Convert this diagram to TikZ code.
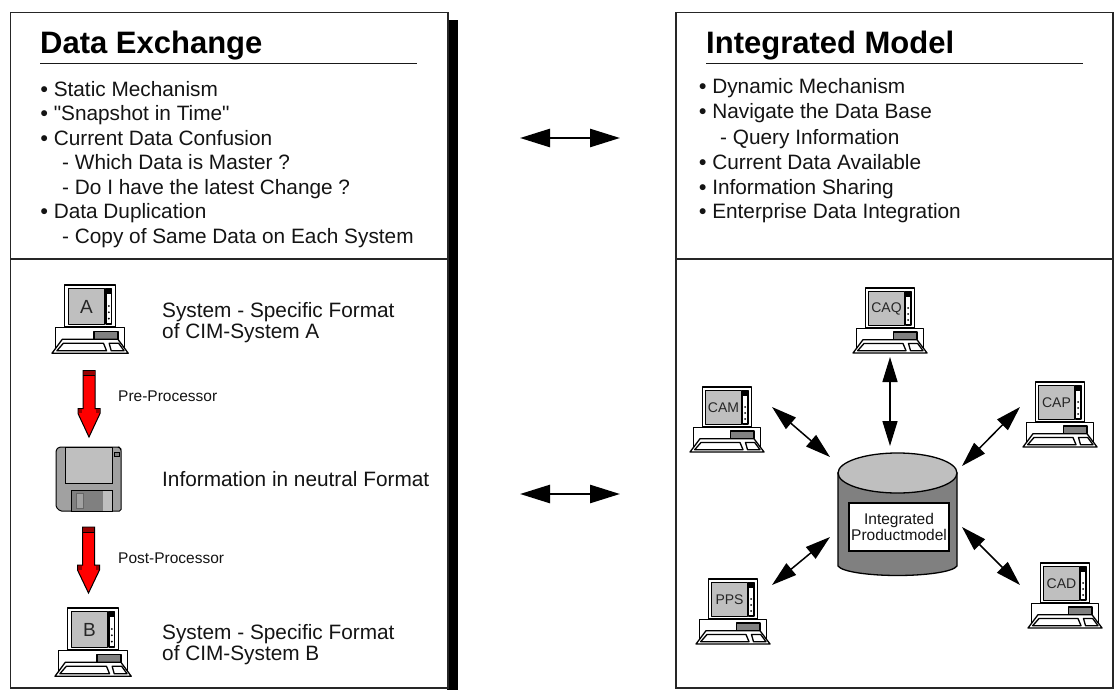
\documentclass[tikz,border=0pt]{standalone}
\usepackage{fontspec}
\setmainfont[Ligatures=TeXOff]{Liberation Sans}
\usetikzlibrary{arrows.meta,calc}
\definecolor{gA}{gray}{0.75}
\definecolor{gB}{gray}{0.5}
\definecolor{gC}{gray}{0.63}
\definecolor{txt}{gray}{0.08}
\newcommand{\fs}[1]{\fontsize{#1}{#1}\selectfont}
\newcommand{\bul}{{\bfseries •}}
\tikzset{
  panel/.style={draw=black!85,line width=1.4pt,fill=white},
  titletext/.style={anchor=base west,inner sep=0pt,font=\fs{31}\bfseries,text=black},
  bodytext/.style={anchor=base west,inner sep=0pt,font=\fs{20.8},text=txt},
  smalltext/.style={anchor=base west,inner sep=0pt,font=\fs{15.5},text=txt},
  bigarrow/.style={line width=2.6pt,black,{Triangle[length=30pt,width=18pt]}-{Triangle[length=30pt,width=18pt]}},
  linkarrow/.style={line width=1.5pt,black,{Triangle[length=25pt,width=15pt]}-{Triangle[length=25pt,width=15pt]}},
  cline/.style={draw=black,line width=1.3pt,line join=round},
  blockred/.style={draw=black,line width=1pt,fill=red,line join=miter},
}
\newcommand{\computer}[7]{%
\begin{scope}[shift={(#2,#3)},xscale=#4,yscale=#5]
  \draw[cline,fill=white] (12.3,0) rectangle (61.7,40);
  \draw[cline,fill=gA] (15.7,3.3) rectangle (51.3,37.5);
  \draw[cline,fill=white] (52.5,3.3) rectangle (58,37);
  \fill[black] (53.2,4) rectangle (57.3,8.5);
  \foreach \yy in {20,26,32} \fill[black] (55.2,\yy) circle (1pt);
  \draw[cline,fill=white] (3.3,40.7) rectangle (70.7,60);
  \draw[cline,fill=gB] (40.7,44) rectangle (64,51.7);
  \draw[cline,fill=white] (0,65) -- (10,51.7) -- (64,51.7) -- (74,65) -- cycle;
  \draw[cline,fill=white] (11,55.5) -- (50,55.5) -- (53,62.7) -- (4.7,62.7) -- cycle;
  \draw[cline,fill=white] (55.5,55.5) -- (64.7,55.5) -- (70,62.7) -- (57.5,62.7) -- cycle;
  \node[inner sep=0pt,font=\fs{#7},text=black!85] (#1) at (33.5,20.5) {#6};
\end{scope}}
\newcommand{\redarrow}[2]{%
  \draw[blockred] ($(#1)+(-6,0)$) -- ($(#1)+(6,0)$) -- ($(#1)+(6,38)$) -- ($(#1)+(11,38)$) -- ($(#1)+(11,43)$) -- (#2) -- ($(#1)+(-11,43)$) -- ($(#1)+(-11,38)$) -- ($(#1)+(-6,38)$) -- cycle;
  \fill[red!60!black] ($(#1)+(-5.5,0.5)$) rectangle ($(#1)+(5.5,4.5)$);
  \draw[black,line width=.8pt] ($(#1)+(-6,5)$) -- ($(#1)+(6,5)$);
  \fill[red!60!black] ($(#1)+(-10.5,38.5)$) rectangle ($(#1)+(-7,42.5)$);
  \fill[red!60!black] ($(#1)+(7,38.5)$) rectangle ($(#1)+(10.5,42.5)$);
}
\begin{document}
\begin{tikzpicture}[x=1pt,y=-1pt]
\useasboundingbox (0,0) rectangle (1114,690);
% left panel
\fill[black] (447,20) rectangle (458,690);
\draw[panel] (10.5,12.5) rectangle (448,688);
\draw[panel,fill=none] (10.5,259) -- (448,259);
\node[titletext] (t1) at (40,54) {Data Exchange};
\draw[line width=1.2pt,black!90] (40,63.5) -- (417,63.5);
\node[bodytext] (l1) at (40.5,97) {\bul{} Static Mechanism};
\node[bodytext] (l2) at (40.5,121) {\bul{} "Snapshot in Time"};
\node[bodytext] (l3) at (40.5,146) {\bul{} Current Data Confusion};
\node[bodytext] (l4) at (62,170) {- Which Data is Master ?};
\node[bodytext] (l5) at (62,194) {- Do I have the latest Change ?};
\node[bodytext] (l6) at (40.5,218.5) {\bul{} Data Duplication};
\node[bodytext] (l7) at (62,243) {- Copy of Same Data on Each System};
% right panel
\draw[panel] (676,12.5) rectangle (1113,688);
\draw[panel,fill=none] (676,259) -- (1113,259);
\node[titletext] (t2) at (706,54) {Integrated Model};
\draw[line width=1.2pt,black!90] (706,63.5) -- (1083,63.5);
\node[bodytext] (r1) at (699,94) {\bul{} Dynamic Mechanism};
\node[bodytext] (r2) at (699,119) {\bul{} Navigate the Data Base};
\node[bodytext] (r3) at (720,145) {- Query Information};
\node[bodytext] (r4) at (699,170) {\bul{} Current Data Available};
\node[bodytext] (r5) at (699,194) {\bul{} Information Sharing};
\node[bodytext] (r6) at (699,218.5) {\bul{} Enterprise Data Integration};
% middle arrows
\coordinate (m1a) at (520,138); \coordinate (m1b) at (620,138);
\coordinate (m2a) at (520,494); \coordinate (m2b) at (620,494);
\draw[bigarrow] (m1a) -- (m1b);
\draw[bigarrow] (m2a) -- (m2b);
% left computers
\computer{compA}{52}{285}{1.03}{1.05}{A}{19}
\computer{compB}{55}{608}{1.03}{1.05}{B}{19}
\node[bodytext] (sa1) at (162,317) {System - Specific Format};
\node[bodytext] (sa2) at (162,338) {of CIM-System A};
\node[bodytext] (sn) at (162,486) {Information in neutral Format};
\node[bodytext] (sb1) at (162,639) {System - Specific Format};
\node[bodytext] (sb2) at (162,660) {of CIM-System B};
\node[smalltext] (pre) at (118,401) {Pre-Processor};
\node[smalltext] (post) at (118,563) {Post-Processor};
% floppy
\draw[draw=black,line width=1pt,fill=gC,rounded corners=1.5pt] (59,447) -- (119,447) -- (121,449) -- (121,511) -- (60,511) -- (56,507) -- (56,450) -- cycle;
\draw[draw=black,line width=.9pt,fill=gA] (65,447) rectangle (112,483);
\draw[draw=black,line width=.8pt,fill=gB] (114,452) rectangle (119,456.5);
\draw[draw=black,line width=.9pt,fill=gB] (71,490) rectangle (112,511);
\draw[draw=black!60,line width=.8pt,fill=gC] (76,493) rectangle (83,508);
\fill[gA] (103,491) rectangle (111.5,510.5);
% red arrows
\coordinate (pa) at (89,370.5); \coordinate (pb) at (89,437);
\coordinate (qa) at (88.5,527); \coordinate (qb) at (88.5,593);
\redarrow{pa}{pb}
\redarrow{qa}{qb}
% right computers
\computer{caq}{853}{288}{1}{1}{CAQ}{14}
\computer{cap}{1023}{382}{1}{1}{CAP}{14}
\computer{cam}{690}{387}{1}{1}{CAM}{14}
\computer{pps}{696}{579}{1}{1}{PPS}{14}
\computer{cad}{1028}{563}{1}{1}{CAD}{14}
% cylinder
\draw[black,line width=1.3pt,fill=gB] (838,473) -- (838,566) .. controls (842,572) and (870,575.5) .. (897.5,575.5) .. controls (925,575.5) and (953,572) .. (957,566) -- (957,473) -- cycle;
\draw[black,line width=1.3pt,fill=gA] (897.5,473) ellipse [x radius=59.5,y radius=20];
\node[draw=black,line width=1.1pt,fill=white,minimum width=100pt,minimum height=48pt,inner sep=0pt,align=center,font=\fs{15.5},text=txt] (ipm) at (899,527) {\fontsize{15.5}{17.5}\selectfont Integrated\\Productmodel};
% links
\coordinate (a1) at (890,357); \coordinate (b1) at (890,446);
\coordinate (a2) at (1020,407); \coordinate (b2) at (962,466);
\coordinate (a3) at (772,407); \coordinate (b3) at (830,457);
\coordinate (a4) at (772,585); \coordinate (b4) at (830,537);
\coordinate (a5) at (1020,585); \coordinate (b5) at (962,527);
\draw[linkarrow] (a1) -- (b1);
\draw[linkarrow] (a2) -- (b2);
\draw[linkarrow] (a3) -- (b3);
\draw[linkarrow] (a4) -- (b4);
\draw[linkarrow] (a5) -- (b5);
\end{tikzpicture}
\end{document}
